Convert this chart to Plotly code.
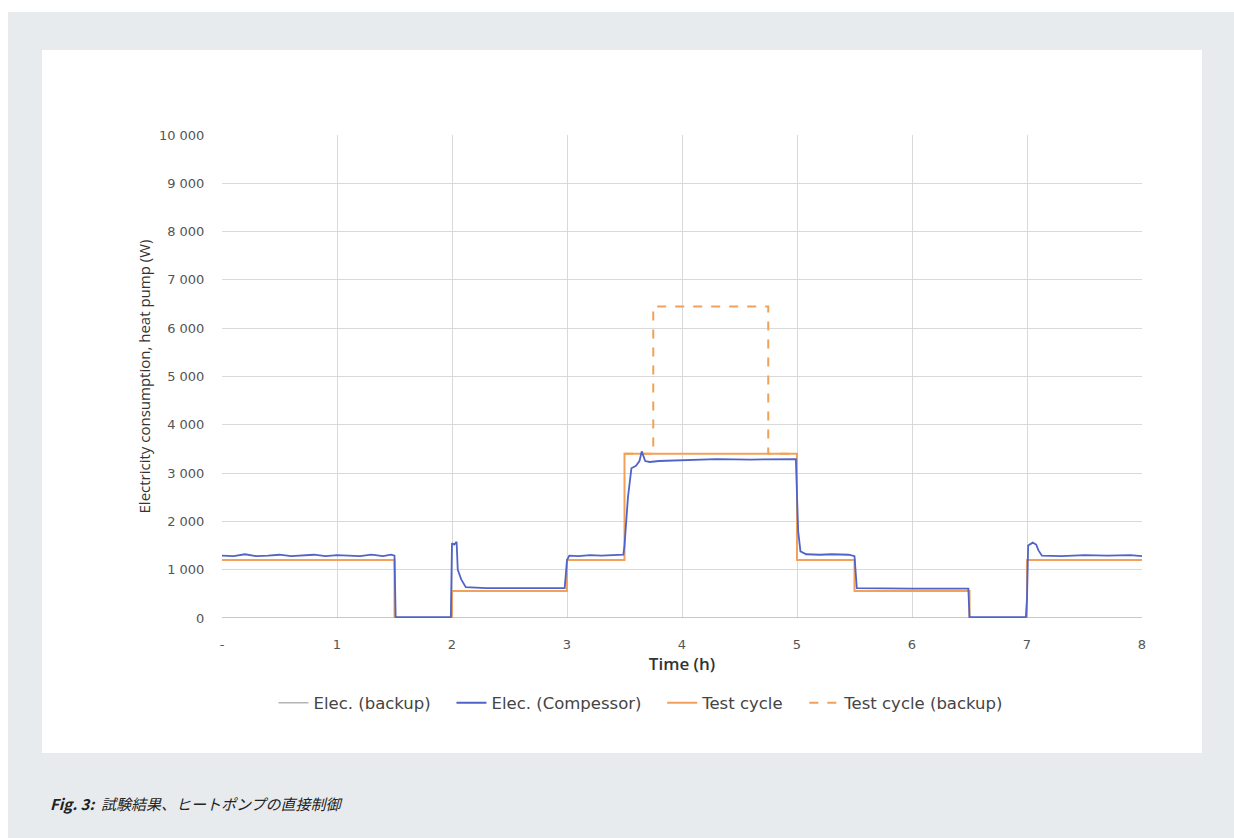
import plotly.graph_objects as go

# ---------------- data ----------------
cycle_t = [0, 1.5, 2, 3, 3.5, 5, 5.5, 6.5, 7, 8]
cycle_w = [1200, 0, 560, 1200, 3400, 1200, 560, 0, 1200, 1200]

backup_cycle_t = [3.5, 3.75, 4.75, 5]
backup_cycle_w = [3400, 6450, 3400, 3400]

elec_backup_t = [0, 8]
elec_backup_w = [0, 0]

comp_t = [0, 0.1, 0.2, 0.3, 0.4, 0.5, 0.6, 0.7, 0.8, 0.9, 1.0, 1.1, 1.2, 1.3, 1.4, 1.47, 1.5,
          1.51, 1.99, 2.0, 2.02, 2.04, 2.05, 2.08, 2.12, 2.3, 2.6, 2.9, 2.98,
          3.0, 3.02, 3.1, 3.2, 3.3, 3.4, 3.49,
          3.5, 3.53, 3.56, 3.6, 3.63, 3.65, 3.68, 3.72, 3.8, 4.0, 4.3, 4.6, 4.9, 4.99,
          5.01, 5.03, 5.08, 5.2, 5.3, 5.45, 5.5,
          5.52, 6.0, 6.49, 6.5, 6.99,
          7.0, 7.01, 7.05, 7.08, 7.1, 7.13, 7.3, 7.5, 7.7, 7.9, 8.0]
comp_w = [1290, 1280, 1320, 1280, 1290, 1310, 1280, 1290, 1310, 1280, 1300, 1290, 1280, 1310, 1280, 1310, 1290,
          20, 20, 1550, 1520, 1580, 1000, 800, 640, 620, 620, 620, 620,
          1200, 1290, 1280, 1300, 1290, 1300, 1310,
          1500, 2500, 3100, 3150, 3250, 3450, 3250, 3230, 3250, 3270, 3290, 3280, 3290, 3290,
          1800, 1380, 1320, 1310, 1320, 1310, 1280,
          620, 610, 610, 20, 20,
          400, 1500, 1560, 1520, 1400, 1290, 1280, 1300, 1290, 1300, 1280]

series_names = ["Elec. (backup)", "Elec. (Compessor)", "Test cycle", "Test cycle (backup)"]

x_ticks = [0, 1, 2, 3, 4, 5, 6, 7, 8]
x_ticktext = ["-", "1", "2", "3", "4", "5", "6", "7", "8"]
y_ticks = [0, 1000, 2000, 3000, 4000, 5000, 6000, 7000, 8000, 9000, 10000]
y_ticktext = ["0", "1 000", "2 000", "3 000", "4 000", "5 000", "6 000", "7 000", "8 000", "9 000", "10 000"]

# ---------------- layout geometry ----------------
W, H = 1234, 838
L, R, T, B = 222, 92, 135, 220
PW, PH = W - L - R, H - T - B
y0_px = T + PH


def px(x):
    return (x - L) / PW


def py(y):
    return (y0_px - y) / PH


PAD = "\u00a0\u00a0\u00a0"
ORANGE = "#f2a15a"
BLUE = "#4f63c9"
GRAY = "#b5b5b5"

fig = go.Figure()
fig.add_trace(go.Scatter(x=elec_backup_t, y=elec_backup_w, mode="lines", name=series_names[0] + PAD,
                         line=dict(color=GRAY, width=1.5), legendrank=1))
fig.add_trace(go.Scatter(x=backup_cycle_t, y=backup_cycle_w, mode="lines", name=series_names[3],
                         line=dict(color=ORANGE, width=2, dash="dash", shape="hv"), legendrank=4))
fig.add_trace(go.Scatter(x=cycle_t, y=cycle_w, mode="lines", name=series_names[2] + PAD,
                         line=dict(color=ORANGE, width=2, shape="hv"), legendrank=3))
fig.add_trace(go.Scatter(x=comp_t, y=comp_w, mode="lines", name=series_names[1] + PAD,
                         line=dict(color=BLUE, width=1.8), legendrank=2))

fig.update_layout(
    width=W, height=H,
    margin=dict(l=L, r=R, t=T, b=B),
    paper_bgcolor="white",
    plot_bgcolor="rgba(0,0,0,0)",
    font=dict(family="DejaVu Sans", color="#555555"),
    showlegend=True,
    legend=dict(orientation="h", x=px(641), xanchor="center", y=py(703), yanchor="middle",
                bgcolor="rgba(0,0,0,0)", font=dict(size=16.5, color="#444444", family="DejaVu Sans"),
                traceorder="normal"),
    xaxis=dict(range=[0, 8], tickvals=x_ticks, ticktext=x_ticktext, showgrid=True,
               gridcolor="#d9d9d9", gridwidth=1, zeroline=False, showline=False,
               tickfont=dict(size=13, color="#555555"), ticks="outside", ticklen=14,
               tickcolor="rgba(0,0,0,0)",
               title=dict(text="Time (h)",
                          font=dict(size=17, color="#333333", family="Open Sans", weight=600),
                          standoff=2)),
    yaxis=dict(range=[0, 10000], tickvals=y_ticks, ticktext=y_ticktext, showgrid=True,
               gridcolor="#d9d9d9", gridwidth=1, zeroline=False, showline=False,
               tickfont=dict(size=13, color="#555555"), ticks="outside", ticklen=14,
               tickcolor="rgba(0,0,0,0)",
               title=dict(text="Electricity consumption, heat pump (W)",
                          font=dict(size=15, color="#333333", family="Open Sans"), standoff=4)),
    shapes=[
        dict(type="rect", xref="paper", yref="paper", x0=px(8), x1=px(1240), y0=py(12), y1=py(845),
             fillcolor="#e8ebee", line=dict(width=0), layer="below"),
        dict(type="rect", xref="paper", yref="paper", x0=px(42), x1=px(1202), y0=py(50), y1=py(753),
             fillcolor="white", line=dict(width=0), layer="below"),
    ],
    annotations=[
        dict(xref="paper", yref="paper", x=px(48), y=py(803), xanchor="left", yanchor="middle",
             showarrow=False,
             text="<b><i>Fig. 3:</i></b>  <i>試験結果、ヒートポンプの直接制御</i>",
             font=dict(size=15, color="#222222", family="Noto Sans CJK JP")),
    ],
)

fig.write_html("out.html", config={"displayModeBar": False},
               post_script="document.body.style.margin='0';document.body.style.overflow='hidden';")
